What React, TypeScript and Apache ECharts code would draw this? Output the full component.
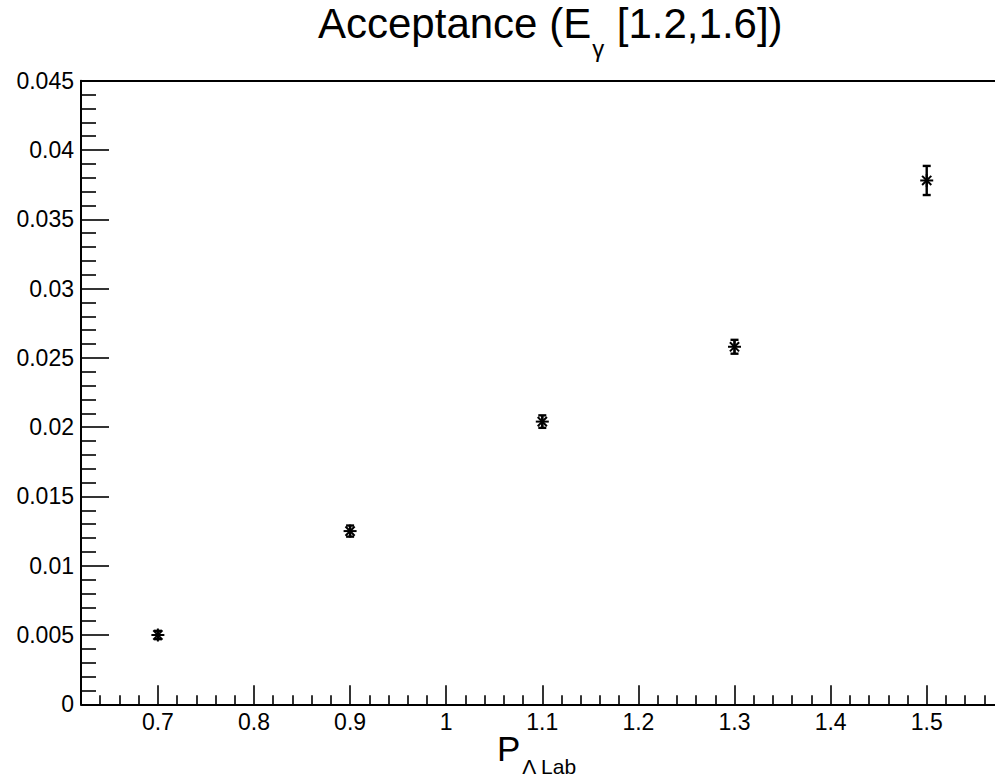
import React, { useEffect, useRef } from "react";
import * as echarts from "echarts";

// ---- data ----
const xValues = [0.7, 0.9, 1.1, 1.3, 1.5];
const yValues = [0.005, 0.0125, 0.0204, 0.0258, 0.0378];
const yErrors = [0.0003, 0.0004, 0.00045, 0.0005, 0.00105];

const xTickLabels = [0.7, 0.8, 0.9, 1.0, 1.1, 1.2, 1.3, 1.4, 1.5];
const yTickLabels = [0, 0.005, 0.01, 0.015, 0.02, 0.025, 0.03, 0.035, 0.04, 0.045];

const titleMain = "Acceptance (E";
const titleSub = "γ";
const titleTail = " [1.2,1.6])";
const xTitleMain = "P";
const xTitleSub = "Λ Lab";

const FONT = "'Liberation Sans', Arial, Helvetica, sans-serif";

function measure(text: string, size: number): number {
  const c = document.createElement("canvas");
  const ctx = c.getContext("2d");
  if (!ctx) return text.length * size * 0.55;
  ctx.font = `${size}px 'Liberation Sans', Arial, sans-serif`;
  return ctx.measureText(text).width;
}

export default function App() {
  const ref = useRef<HTMLDivElement>(null);

  useEffect(() => {
    if (!ref.current) return;
    const chart = echarts.init(ref.current, undefined, { renderer: "svg" });

    const xMin = 0.62;
    const xMax = 1.58;
    const minorX: number[] = [];
    for (let k = 1; k < 48; k++) {
      const v = Math.round((xMin + 0.02 * k) * 100) / 100;
      if (Math.abs(v * 10 - Math.round(v * 10)) > 1e-6) minorX.push(v);
    }

    const data = xValues.map((x, i) => [x, yValues[i], yErrors[i]]);

    // title pieces
    const tSize = 42;
    const tSub = 24;
    const tX = 318;
    const w1 = measure(titleMain, tSize);
    const w2 = measure(titleSub, tSub);

    const pSize = 35;
    const pSub = 21;
    const pX = 497;
    const wp = measure(xTitleMain, pSize);

    const option: any = {
      animation: false,
      backgroundColor: "#fff",
      grid: { left: 81, top: 80.7, width: 922.6, height: 623.6, containLabel: false },
      xAxis: [
        {
          type: "value",
          min: xMin,
          max: xMax,
          position: "bottom",
          splitLine: { show: false },
          axisLine: { show: true, onZero: false, lineStyle: { color: "#000", width: 2 } },
          axisTick: {
            show: true,
            inside: true,
            length: 19,
            customValues: xTickLabels,
            lineStyle: { color: "#000", width: 1.6 },
          },
          axisLabel: {
            show: true,
            customValues: xTickLabels,
            margin: 6,
            color: "#000",
            fontSize: 23,
            fontFamily: FONT,
            formatter: (v: number) => String(Math.round(v * 10) / 10),
          },
        },
        {
          type: "value",
          min: xMin,
          max: xMax,
          position: "bottom",
          splitLine: { show: false },
          axisLine: { show: false, onZero: false },
          axisTick: {
            show: true,
            inside: true,
            length: 9,
            customValues: minorX,
            lineStyle: { color: "#000", width: 1.6 },
          },
          axisLabel: { show: false },
        },
        {
          type: "value",
          min: xMin,
          max: xMax,
          position: "top",
          splitLine: { show: false },
          axisLine: { show: true, onZero: false, lineStyle: { color: "#000", width: 2 } },
          axisTick: { show: false },
          axisLabel: { show: false },
        },
      ],
      yAxis: [
        {
          type: "value",
          min: 0,
          max: 0.045,
          interval: 0.005,
          position: "left",
          splitLine: { show: false },
          axisLine: { show: true, onZero: false, lineStyle: { color: "#000", width: 2 } },
          axisTick: { show: true, inside: true, length: 28, lineStyle: { color: "#000", width: 1.6 } },
          minorTick: { show: true, splitNumber: 5, length: 15, lineStyle: { color: "#000", width: 1.6 } },
          minorSplitLine: { show: false },
          axisLabel: {
            show: true,
            customValues: yTickLabels,
            margin: 7,
            color: "#000",
            fontSize: 23,
            fontFamily: FONT,
            formatter: (v: number) => String(Math.round(v * 1000) / 1000),
          },
        },
      ],
      series: [
        {
          type: "custom",
          xAxisIndex: 0,
          yAxisIndex: 0,
          encode: { x: 0, y: 1 },
          data,
          clip: false,
          renderItem: (params: any, api: any) => {
            const x = api.value(0);
            const y = api.value(1);
            const e = api.value(2);
            const c = api.coord([x, y]);
            const t = api.coord([x, y + e]);
            const b = api.coord([x, y - e]);
            const cap = 4;
            const s = 6.5;
            const d = 4.6;
            const st = { stroke: "#000", lineWidth: 2.4 };
            const sm = { stroke: "#000", lineWidth: 2 };
            return {
              type: "group",
              children: [
                { type: "line", shape: { x1: t[0], y1: t[1], x2: b[0], y2: b[1] }, style: st },
                { type: "line", shape: { x1: t[0] - cap, y1: t[1], x2: t[0] + cap, y2: t[1] }, style: st },
                { type: "line", shape: { x1: b[0] - cap, y1: b[1], x2: b[0] + cap, y2: b[1] }, style: st },
                { type: "line", shape: { x1: c[0] - s, y1: c[1], x2: c[0] + s, y2: c[1] }, style: sm },
                { type: "line", shape: { x1: c[0], y1: c[1] - s, x2: c[0], y2: c[1] + s }, style: sm },
                { type: "line", shape: { x1: c[0] - d, y1: c[1] - d, x2: c[0] + d, y2: c[1] + d }, style: sm },
                { type: "line", shape: { x1: c[0] - d, y1: c[1] + d, x2: c[0] + d, y2: c[1] - d }, style: sm },
              ],
            };
          },
        },
      ],
      graphic: [
        {
          type: "text",
          x: tX,
          y: 23,
          style: { text: titleMain, fontSize: tSize, fontFamily: FONT, fill: "#000", align: "left", verticalAlign: "middle" },
        },
        {
          type: "text",
          x: tX + w1 + 1,
          y: 48,
          style: { text: titleSub, fontSize: tSub, fontFamily: FONT, fill: "#000", align: "left", verticalAlign: "middle" },
        },
        {
          type: "text",
          x: tX + w1 + w2 + 2,
          y: 23,
          style: { text: titleTail, fontSize: tSize, fontFamily: FONT, fill: "#000", align: "left", verticalAlign: "middle" },
        },
        {
          type: "text",
          x: pX,
          y: 748,
          style: { text: xTitleMain, fontSize: pSize, fontFamily: FONT, fill: "#000", align: "left", verticalAlign: "middle" },
        },
        {
          type: "text",
          x: pX + wp + 2,
          y: 766,
          style: { text: xTitleSub, fontSize: pSub, fontFamily: FONT, fill: "#000", align: "left", verticalAlign: "middle" },
        },
      ],
    };

    chart.setOption(option);
    return () => {
      chart.dispose();
    };
  }, []);

  return (
    <div style={{ position: "absolute", left: 0, top: 0, width: 995, height: 780, overflow: "hidden", background: "#fff" }}>
      <div ref={ref} style={{ width: 1010, height: 780 }} />
    </div>
  );
}
